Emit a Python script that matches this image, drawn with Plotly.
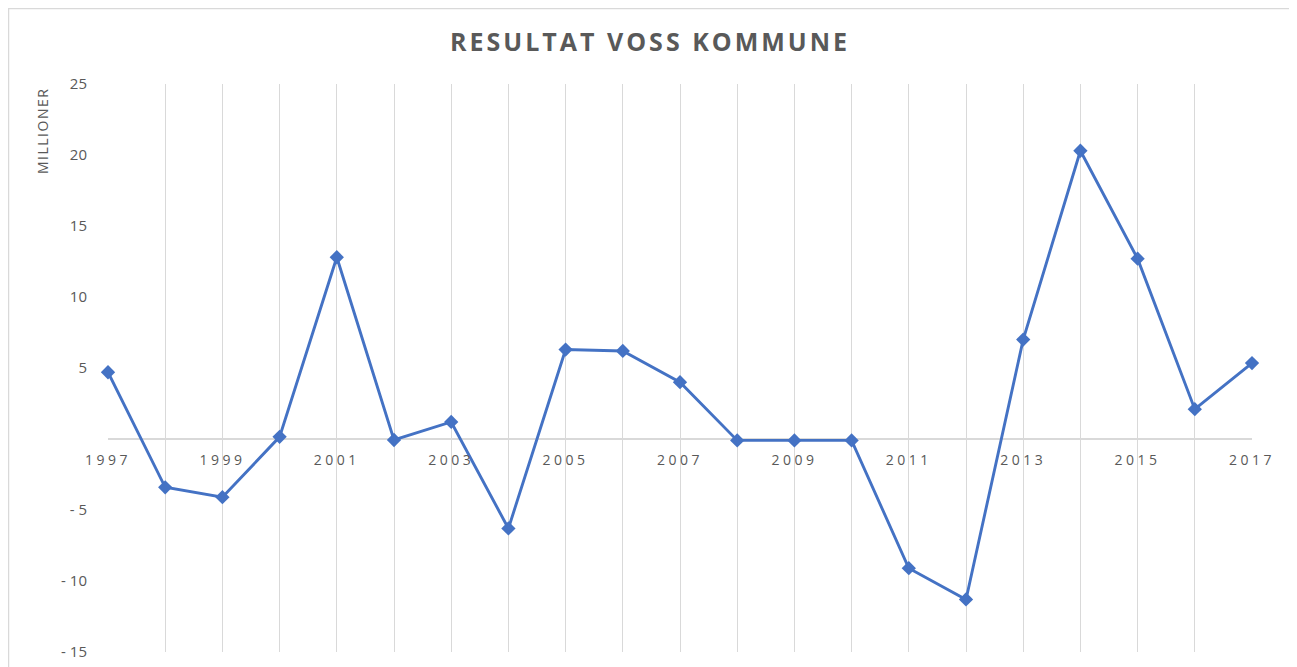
import plotly.graph_objects as go

years = list(range(1997, 2018))
values = [4.7, -3.4, -4.1, 0.15, 12.8, -0.07, 1.2, -6.3, 6.3, 6.2, 4.0,
          -0.1, -0.1, -0.1, -9.1, -11.3, 7.0, 20.3, 12.7, 2.1, 5.35]

y_tickvals = [25, 20, 15, 10, 5, -5, -10, -15]
y_ticktext = ["25", "20", "15", "10", "5", "- 5", "- 10", "- 15"]
x_label_years = list(range(1997, 2018, 2))

title_text = "RESULTAT VOSS KOMMUNE"
y_title = "MILLIONER"

BLUE = "#4472C4"
GREY_TXT = "#595959"
GRID = "#d9d9d9"
FONT = "Open Sans"

# page body has an 8px margin; compensate so the plot lands where the reference has it
OFF = 8
PAGE_W, PAGE_H = 1297, 667
W, H = PAGE_W - OFF, PAGE_H - OFF
# target page pixel positions of the plot area
PL, PR, PT, PB = 108, 1252, 84, 652
L, T = PL - OFF, PT - OFF
R, B = W - (PR - OFF), H - (PB - OFF)
pw, ph = W - L - R, H - T - B

def px_x(x):
    return (x - OFF - L) / pw

def px_y(y):
    return (T + ph - (y - OFF)) / ph

fig = go.Figure()
fig.add_trace(go.Scatter(
    x=years, y=values, mode="lines+markers",
    line=dict(color=BLUE, width=2.9),
    marker=dict(symbol="diamond", size=11, color=BLUE),
    cliponaxis=False,
    hoverinfo="x+y", showlegend=False,
))
# invisible trace to carry the label axis
fig.add_trace(go.Scatter(
    x=years, y=values, xaxis="x2", mode="lines",
    line=dict(width=0, color="rgba(0,0,0,0)"), hoverinfo="skip", showlegend=False,
))

ymin, ymax = -15, 25
fig.update_layout(
    width=W, height=H,
    margin=dict(l=L, r=R, t=T, b=B, autoexpand=False),
    paper_bgcolor="white", plot_bgcolor="white",
    title=dict(
        text='<span style="letter-spacing:3px">%s</span>' % title_text,
        x=(650 - OFF) / W, xanchor="center", y=1 - (42 - OFF) / H, yanchor="middle",
        font=dict(family=FONT, size=25, color=GREY_TXT, weight="bold"),
    ),
    xaxis=dict(
        range=[1997, 2017], tickmode="linear", tick0=1997, dtick=1,
        showgrid=True, gridcolor=GRID, gridwidth=1.3, automargin=False,
        showticklabels=False, zeroline=False, showline=False, ticks="",
    ),
    xaxis2=dict(
        overlaying="x", anchor="free", position=(0 - ymin) / (ymax - ymin),
        range=[1997, 2017], tickmode="array", tickvals=x_label_years,
        ticktext=['<span style="letter-spacing:3.5px">%d</span>' % y for y in x_label_years],
        showgrid=False, zeroline=False, showline=False, ticks="", automargin=False,
        tickfont=dict(family=FONT, size=14, color=GREY_TXT),
        ticklabelstandoff=11,
    ),
    yaxis=dict(
        range=[ymin, ymax], tickmode="array", tickvals=y_tickvals, ticktext=y_ticktext,
        showgrid=False, zeroline=True, zerolinecolor=GRID, zerolinewidth=1.5,
        showline=False, ticks="", automargin=False,
        tickfont=dict(family=FONT, size=15, color=GREY_TXT),
        ticklabelstandoff=20,
    ),
    annotations=[dict(
        text='<span style="letter-spacing:1.5px">%s</span>' % y_title,
        xref="paper", yref="paper",
        x=px_x(43), y=px_y(131), xanchor="center", yanchor="middle",
        textangle=-90, showarrow=False,
        font=dict(family=FONT, size=14, color=GREY_TXT),
    )],
    shapes=[dict(
        type="rect", xref="paper", yref="paper",
        x0=px_x(OFF + 0.5), x1=px_x(1293), y0=px_y(720), y1=px_y(OFF + 0.5),
        line=dict(color=GRID, width=1.5), fillcolor="rgba(0,0,0,0)", layer="below",
    )],
)

fig.write_html("out.html")
